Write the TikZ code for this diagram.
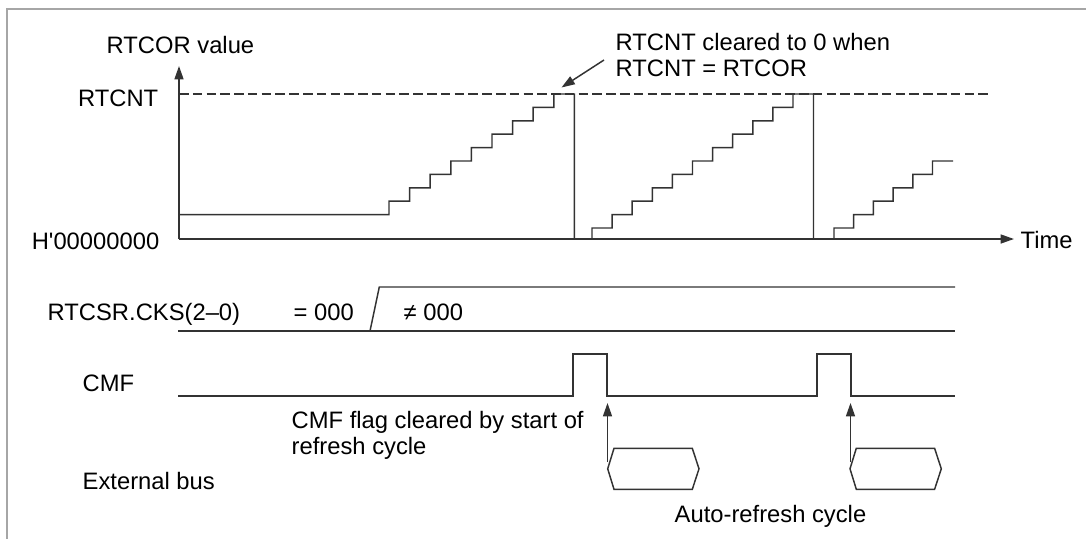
\documentclass[tikz,border=0pt]{standalone}
\usepackage{fontspec}
\setmainfont{Liberation Sans}
\usetikzlibrary{arrows.meta}

\begin{document}
\begin{tikzpicture}[x=0.025cm, y=-0.025cm, line width=1.05pt, black!80,
  lbl/.style={inner sep=0pt, text=black, font=\fontsize{16.9}{18.5}\selectfont},
  tip/.style={-{Triangle[length=9.5pt,width=6.4pt]}},
  sig/.style={line join=miter}]
  \useasboundingbox (0,0) rectangle (1086,539);
  % frame
  \draw[gray!70, line width=1pt] (7,539) -- (7,9) -- (1086,9);

  % axes
  \coordinate (O) at (179,239);
  \coordinate (ytop) at (179,66);
  \coordinate (xend) at (1014,239);
  \draw[tip] (O) -- (ytop);
  \draw[tip] (O) -- (xend);
  \draw[dash pattern=on 6.8pt off 3pt] (179,94) -- (990,94);

  \node[lbl, anchor=base west] (yname) at (106,53) {RTCOR value};
  \node[lbl, anchor=base east] (cor)   at (159,106) {RTCNT};
  \node[lbl, anchor=base east] (zero)  at (160,249)
    {H\XeTeXglyph\XeTeXcharglyph"27\relax 00000000};
  \node[lbl, anchor=base west] (time)  at (1020,248) {Time};

  % counter staircase
  \draw[sig] (179,214.6) -- (389,214.6)
    \foreach \i in {1,...,9} { -- ++(0,-13.4) -- ++(20.6,0) }
    -- (574.4,239) -- (592,239) -- (592,228)
    \foreach \i in {1,...,10} { -- ++(20.1,0) -- ++(0,-13.4) }
    -- ++(20.5,0) -- (813.5,239) -- (834,239) -- (834,228)
    \foreach \i in {1,...,5} { -- ++(19.7,0) -- ++(0,-13.4) }
    -- ++(20.5,0);

  \node[lbl, anchor=north west, align=left] (note) at (615,33)
    {RTCNT cleared to 0 when\\RTCNT = RTCOR};
  \coordinate (nt) at (604,60);
  \coordinate (pk1) at (561.5,87.5);
  \draw[tip] (nt) -- (pk1);

  % RTCSR.CKS
  \node[lbl, anchor=base west] (cks) at (47,320) {RTCSR.CKS(2–0)};
  \node[lbl, anchor=base west] (eq)  at (293,320) {= 000};
  \node[lbl, anchor=base west] (ne)  at (403,320) {≠ 000};
  \draw (178,331) -- (955,331);
  \draw[sig] (370,331) -- (379.3,287) -- (955,287);

  % CMF
  \node[lbl, anchor=base west] (cmf) at (82,391) {CMF};
  \draw[sig] (178,396) -- (573,396) -- (573,354) -- (607,354) -- (607,396)
    -- (817,396) -- (817,354) -- (851,354) -- (851,396) -- (955,396);
  \node[lbl, anchor=north west, align=left] (flag) at (291,411)
    {CMF flag cleared by start of\\refresh cycle};

  % external bus
  \node[lbl, anchor=base west] (bus) at (82,489) {External bus};
  \foreach \x in {607.7,850}
    \draw[sig] (\x,468.8) -- ++(6.3,-20.5) -- ++(78.3,0) -- ++(6.7,20.5)
      -- ++(-6.7,20.5) -- ++(-78.3,0) -- cycle;
  \coordinate (up1) at (607.5,462);
  \coordinate (clr1) at (607.5,403);
  \coordinate (up2) at (850.5,462);
  \coordinate (clr2) at (850.5,403);
  \draw[tip] (up1) -- (clr1);
  \draw[tip] (up2) -- (clr2);
  \node[lbl, anchor=base west] (auto) at (674,522) {Auto-refresh cycle};
\end{tikzpicture}
\end{document}
